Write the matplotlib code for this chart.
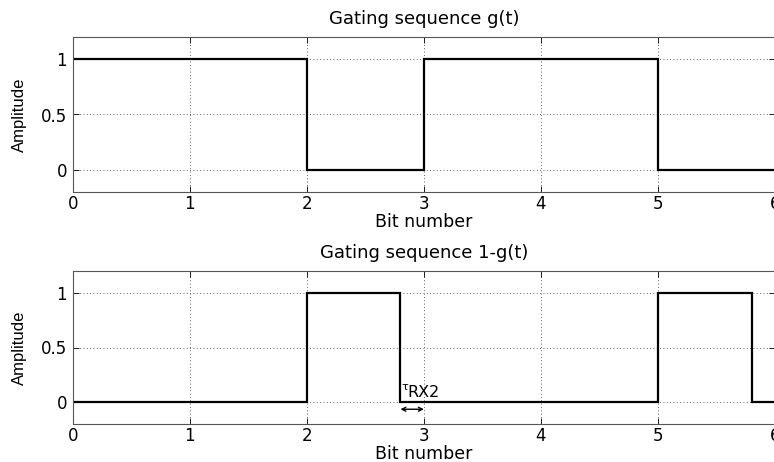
import matplotlib
matplotlib.use("Agg")
import matplotlib.pyplot as plt

plt.rcParams['font.family'] = ['DejaVu Sans']

# data
g_t = [0, 2, 2, 3, 3, 5, 5, 6]
g_v = [1, 1, 0, 0, 1, 1, 0, 0]
h_t = [0, 2, 2, 2.8, 2.8, 5, 5, 5.8, 5.8, 6]
h_v = [0, 0, 1, 1, 0, 0, 1, 1, 0, 0]
xticks = [0, 1, 2, 3, 4, 5, 6]
yticks = [0, 0.5, 1]
titles = ["Gating sequence g(t)", "Gating sequence 1-g(t)"]
tau_start, tau_end = 2.8, 3.0

W, H = 774, 462
fig = plt.figure(figsize=(W / 100, H / 100), dpi=100)

def make_ax(top_px, bottom_px):
    left = 72.7 / W
    right = 775.0 / W
    return fig.add_axes([left, 1 - bottom_px / H, right - left, (bottom_px - top_px) / H])

ax1 = make_ax(37, 192)
ax2 = make_ax(271, 424)

for ax, (t, v), title in zip([ax1, ax2], [(g_t, g_v), (h_t, h_v)], titles):
    ax.plot(t, v, color='black', lw=1.6, solid_joinstyle='miter')
    ax.set_xlim(0, 6)
    ax.set_ylim(-0.2, 1.2)
    ax.set_xticks(xticks)
    ax.set_yticks(yticks)
    ax.set_xticklabels([str(x) for x in xticks])
    ax.set_yticklabels(['0', '0.5', '1'])
    ax.grid(True, linestyle=(0, (1, 3)), color='#333333', lw=0.6)
    ax.tick_params(direction='in', length=4, labelsize=12, top=True, right=True, width=0.6)
    ax.tick_params(axis='x', pad=2)
    ax.tick_params(axis='y', pad=4)
    for s in ax.spines.values():
        s.set_linewidth(0.8)
        s.set_color('#555555')
    ax.set_title(title, fontsize=13, pad=9)
    ax.set_xlabel("Bit number", fontsize=12.5, labelpad=0)
    ax.set_ylabel("Amplitude", fontsize=12, labelpad=10, family='Liberation Sans')

ax2.annotate('', xy=(tau_start, -0.065), xytext=(tau_end, -0.065),
             arrowprops=dict(arrowstyle='<->', color='black', lw=1.0,
                             shrinkA=0, shrinkB=0, mutation_scale=7))
ax2.text(tau_start + 0.01, 0.11, 'τ', fontsize=8, ha='left', va='baseline')
ax2.text(tau_start + 0.055, 0.05, 'RX2', fontsize=11.5, ha='left', va='baseline')

fig.savefig("out.png", dpi=100)
